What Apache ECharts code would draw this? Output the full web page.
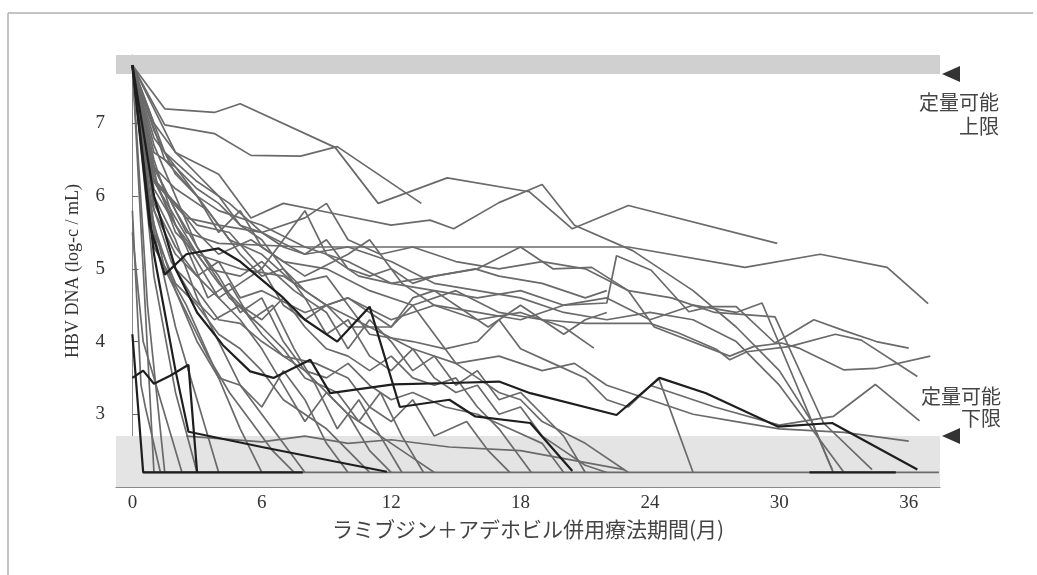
<!DOCTYPE html>
<html><head><meta charset="utf-8">
<script src="https://cdn.jsdelivr.net/npm/echarts@6/dist/echarts.min.js"></script>
<style>html,body{margin:0;padding:0;background:#fff}#c{width:1037px;height:575px}</style>
</head><body><div id="c"></div>
<script>
// ---- axis ticks ----
const xTicks = [0, 6, 12, 18, 24, 30, 36];
const yTicks = [3, 4, 5, 6, 7];
const upperLimitBand = [7.68, 7.94];
const lowerLimitBand = [2.0, 2.7];
// ---- patient curves (month, log copies/mL), grey ----
const G1 = [[0,7.8],[1.5,7.2],[3.8,7.15],[5,7.27],[9.4,6.67],[11.4,5.9],[14.6,6.25],[18.4,6.06],[20.4,5.55],[23,5.87],[29.9,5.35]];
const G2 = [[0,7.8],[1.5,6.98],[3.8,6.86],[5.5,6.56],[7.8,6.55],[9.5,6.68],[13.4,5.9]];
const G3 = [[0,7.8],[2,6.6],[4,6.3],[5.5,5.7],[7,5.9],[9.5,5.75],[12,5.6],[13.8,5.67],[14.9,5.55],[17,5.91],[19,6.16],[20.5,5.6],[23.2,5.25],[26,4.7],[28,4.2],[30,3.6],[31.5,2.9],[32.5,2.2]];
const G4 = [[0,7.8],[1,6.4],[2.5,5.5],[4,5.35],[8,5.3],[14,5.3],[20,5.3],[23,5.3],[28.4,5.02],[31.9,5.2],[35,5.02],[36.9,4.52]];
const G5 = [[0,7.8],[1,6.2],[2,5.9],[3,5.6],[4.5,5.5],[6,5.0],[7,5.4],[8,5.8],[9,5.2],[10.5,4.9],[12,4.8],[14,4.9],[16,5.0],[18,5.3],[19.5,5.0],[21.3,5.02],[23,4.7],[24.2,4.2],[27.7,3.8],[28.8,3.93],[30.1,3.98],[30.9,3.91],[33,3.61],[34.45,3.63],[37,3.8]];
const G6 = [[0,7.8],[0.8,6.3],[2,5.9],[3,5.5],[4,5.2],[5.5,5.4],[7,5.1],[9,5.0],[11,4.7],[13,4.5],[15,4.7],[17,4.4],[19,4.3],[21,4.25],[24,4.25],[25.3,4.12],[27.1,3.89],[27.7,3.75],[28.5,3.86],[30.45,3.93],[32.6,4.1],[33.8,4.02],[36.4,3.52]];
const G7 = [[0,7.8],[1,5.8],[2,5.2],[3,4.9],[4,5.1],[5,4.6],[6,4.7],[8,4.4],[10,4.6],[12,4.3],[14,4.5],[16,4.4],[18,4.3],[20,4.5],[22,4.53],[22.45,5.18],[24.06,4.98],[25.8,4.41],[26.8,4.48],[28,4.48],[29.8,3.98],[31.6,4.3],[33,4.15],[34.5,4.0],[36,3.91]];
const G8 = [[0,7.8],[1,6.8],[2,6.4],[3,6.0],[4,5.5],[5,5.8],[6,5.3],[8,4.9],[10,5.2],[11,5.4],[12.5,4.8],[14,4.5],[16,4.3],[18,4.4],[20,4.2],[21.4,3.91]];
const G9 = [[0,7.8],[1.5,6.5],[3,6.0],[4.5,5.4],[6,5.2],[7.5,4.8],[9,4.9],[11,4.1],[13,4.0],[14.5,3.9],[16,4.0],[17,4.3],[18,3.9],[19.5,3.7],[21,3.5],[22,3.2],[23,3.1],[24.4,3.5],[26,2.2]];
const G10 = [[0,7.8],[1,6.0],[2,5.0],[3,4.7],[4,4.3],[5,4.25],[6,4.0],[7,3.8],[8,3.6],[9,3.5],[10,3.7],[11,3.4],[12,3.2],[13,3.3],[14.5,3.1],[16,3.0],[17.5,2.8],[19,2.6],[20,2.2]];
const G11 = [[0,7.8],[1,5.5],[2,4.8],[3,4.5],[4,4.1],[5,3.9],[6,3.6],[7,3.2],[8,3.0],[9,2.8],[10,2.5],[11,2.2]];
const G12 = [[0,7.8],[1,6.4],[2,5.8],[3,5.3],[4.5,4.6],[6,4.2],[7,3.9],[8,3.5],[9.5,3.3],[10.5,2.9],[11.5,3.3],[12.5,2.7],[13.5,2.2]];
const G13 = [[0,7.8],[0.7,6.0],[1.5,5.0],[2.5,4.4],[3.5,3.8],[4.5,3.3],[5.5,2.9],[6.5,2.5],[7.5,2.2]];
const G14 = [[0,7.8],[1,5.6],[2,4.7],[3,4.0],[4,3.5],[5,3.4],[6,3.0],[7,2.6],[8,2.2]];
const G15 = [[0,7.8],[1,6.7],[2,6.0],[3,5.3],[4,4.9],[5,4.4],[6,4.6],[7,4.0],[8,3.6],[9,3.3],[10,3.0],[11,2.8],[12,2.6],[13,2.4],[14,2.2]];
const G16 = [[0,7.8],[1.2,6.1],[2.5,5.3],[3.5,4.6],[4.5,4.8],[5.5,4.3],[6.5,4.5],[7.5,3.9],[8.5,3.4],[9.5,2.8],[10.5,3.2],[11.5,2.7],[12.5,2.2]];
const G17 = [[0,7.8],[1,5.9],[2,5.3],[3,4.9],[4,4.6],[5,4.8],[6,5.0],[7,4.5],[8,4.3],[9,4.5],[10,4.2],[12,4.2],[13,4.5],[14,4.1],[15,3.7],[16,3.5],[17,3.3],[18,3.2],[19,2.9],[21,2.6],[23,2.2]];
const G18 = [[0,7.8],[1,6.2],[2,5.7],[3,5.2],[4,4.8],[5,4.5],[6,4.3],[7,4.6],[8,4.2],[9,3.9],[10,3.8],[11,3.6],[12,3.8],[13,3.5],[14,3.4],[15,3.5],[16,3.1],[17,2.8],[18.5,2.2]];
const G19 = [[0,7.8],[1,6.6],[2,6.4],[3,6.1],[4,5.9],[5,5.6],[6,5.4],[7,5.0],[8,4.7],[9,4.5],[10,4.6],[11,4.4],[12,4.2],[13,4.6],[14,4.7],[15,4.5],[16.5,4.2],[18,4.5],[19,4.3],[20,4.1],[21,4.3],[22,4.4]];
const G20 = [[0,7.8],[1,7.0],[2,6.6],[3,6.3],[4,6.0],[5,5.6],[6,5.5],[7,5.3],[8,5.2],[9,5.4],[10,5.0],[11,4.9],[12,5.0],[13,4.8],[14,4.9],[15.9,5.0],[17,4.9],[19,4.8],[21,4.6],[22,4.7]];
const G21 = [[0,5.8],[0.4,3.4],[0.6,3.1],[1.3,2.2]];
const G22 = [[0,5.5],[0.5,4.0],[1.5,3.0],[2.3,2.2]];
const G23 = [[0,7.8],[0.5,5.0],[1,2.2]];
const G24 = [[0,7.8],[0.7,4.5],[1.5,2.2]];
const G25 = [[0,7.8],[1,4.9],[2,3.3],[3,2.2]];
const G26 = [[0,7.8],[1,5.5],[2,4.2],[3,3.2],[4,2.2]];
const G27 = [[0,7.8],[1,5.3],[2.5,4.5],[4,3.5],[5,2.8],[6,2.2]];
const G28 = [[0,7.8],[1,6.0],[2,5.4],[3,4.6],[4,4.0],[5,3.4],[6,3.1],[7,3.6],[8,3.2],[9,2.6],[10,2.2]];
const G29 = [[0,7.8],[1,6.5],[2,5.6],[3,5.1],[4,4.6],[5,4.3],[6,3.9],[7,3.4],[8,2.9],[9,3.3],[10,3.0],[11,2.5],[12,2.2]];
const G30 = [[2.5,2.7],[6,2.62],[8,2.7],[10,2.6],[12,2.65],[14.7,2.55],[18,2.5],[22.8,2.24]];
const G31 = [[0,7.8],[1,6.3],[2,5.5],[3,5.2],[5,5.0],[7,4.9],[9,4.5],[11,4.2],[13,3.9],[15,3.7],[17,3.8],[19,3.6],[20.5,3.7],[22,3.4],[24,3.2],[26,3.0],[28,2.9],[30,2.8],[33,2.75],[36,2.63]];
const G32 = [[0,7.8],[1.5,6.6],[3,6.2],[4.5,5.9],[6,5.5],[8,5.2],[10,5.3],[12,5.1],[14,4.8],[16,4.7],[18,4.6],[20,4.4],[22,4.3],[24,4.4],[26,4.3],[28,4.0],[30,3.4],[31.5,2.8],[33,2.2]];
const G33 = [[0,7.8],[1,6.9],[2,6.3],[3,6.0],[4,5.8],[6,5.6],[8,5.3],[10,5.1],[12,4.8],[14,4.7],[16,4.6],[18,4.7],[20,4.5],[22,4.6],[24,4.3],[26,4.5],[28,4.4],[29.2,4.53],[32.45,2.24]];
const G34 = [[0,7.8],[1,6.1],[2,5.6],[3.5,5.0],[5,4.9],[6,5.1],[7.5,4.7],[9,4.4],[10,3.9],[11,4.3],[12,4.0],[13,3.6],[14,3.8],[15,3.4],[16,3.6],[17,3.2],[18,3.3],[19,3.0],[20,2.7],[21,2.2]];
const G35 = [[0,7.8],[1,6.2],[2.5,5.7],[4,5.6],[6,5.5],[8,5.7],[9,5.9],[10,5.4],[11.5,5.2],[13,5.3],[15,5.1],[17,5.0],[19,5.1],[21,5.0],[23,4.7],[25,4.6],[27,4.4],[29.8,4.34],[32.05,2.88],[34.3,2.24]];
const G36 = [[0,7.8],[0.8,6.0],[1.8,5.1],[2.8,4.6],[3.8,4.3],[5,4.5],[6,4.1],[7,3.8],[8.5,3.7],[10,3.5],[11,3.1],[12,2.9],[13,3.2],[14,2.7],[15.5,2.9],[16.5,2.5],[17.5,2.2]];
const G37 = [[0,7.8],[1,6.4],[2,6.1],[3.5,5.8],[5,5.2],[6,4.9],[7,5.0],[8,4.6],[9,4.1],[10,4.3],[11,3.8],[12,3.6],[13,3.9],[14,3.5],[15,3.3],[16,3.4],[17,3.0],[18,3.1],[19,2.7],[20,2.5],[21,2.3],[22,2.2]];
const P1 = [[24,3.4],[27,3.1],[30,2.85],[32.5,2.97],[34.45,3.41],[36.5,2.91]];
const BELOW = [[0.5,2.2],[37.4,2.2]];
// ---- dark (highlighted) patients ----
const D1 = [[0,7.8],[0.8,5.6],[1.5,4.92],[2.5,5.2],[4,5.28],[5,5.1],[7,4.6],[8,4.3],[9.5,4.0],[11,4.48],[12.4,3.1],[14.7,3.2],[15.9,2.97],[18.45,2.88],[20.4,2.22]];
const D2 = [[0,7.8],[1,6.0],[2,5.0],[3,4.4],[4.2,3.95],[5.46,3.59],[6.54,3.5],[8.25,3.75],[9.17,3.29],[12.1,3.41],[14.74,3.43],[17,3.45],[18.45,3.29],[22.45,2.99],[24.45,3.5],[26.6,3.29],[29.95,2.83],[32.45,2.88],[36.4,2.24]];
const D3 = [[0,7.8],[1,5.2],[2,3.6],[2.6,2.76],[6,2.55],[11.8,2.21]];
const D4 = [[0,4.1],[0.5,2.2],[7.9,2.2]];
const D5 = [[0,3.5],[0.5,3.6],[1,3.42],[1.75,3.53],[2.6,3.68],[3.0,2.2]];
const D6 = [[31.4,2.2],[35.4,2.2]];

const greyLines = [BELOW,G30,G1,G2,G3,G4,G5,G6,G7,G8,G9,G10,G11,G12,G13,G14,G15,G16,G17,G18,G19,G20,G21,G22,G23,G24,G25,G26,G27,G28,G29,G31,G32,G33,G34,G35,G36,G37,P1];
const darkLines = [D1,D2,D3,D4,D5,D6];

const chart = echarts.init(document.getElementById('c'), null, {renderer:'canvas'});
const series = [];
series.push({
  type:'line', data:[], silent:true,
  markArea:{silent:true, data:[
    [{yAxis:upperLimitBand[0], itemStyle:{color:'#d0d0d0'}},{yAxis:upperLimitBand[1]}],
    [{yAxis:lowerLimitBand[0], itemStyle:{color:'#e4e4e4'}},{yAxis:lowerLimitBand[1]}]
  ]}
});
greyLines.forEach(d => series.push({type:'line', data:d, symbol:'none', silent:true,
  lineStyle:{color:'#6a6a6a', width:1.7}}));
darkLines.forEach(d => series.push({type:'line', data:d, symbol:'none', silent:true,
  lineStyle:{color:'#1e1e1e', width:2.2}}));

const serif = '"Liberation Serif","DejaVu Serif",serif';
const cjk = '"Noto Sans CJK JP","Noto Sans",sans-serif';
chart.setOption({
  animation:false,
  backgroundColor:'#fff',
  grid:{left:116, right:97, top:55, bottom:88},
  xAxis:{type:'value', min:-0.76, max:37.45,
    axisLine:{lineStyle:{color:'#8a8a8a', width:1}},
    axisTick:{inside:true, length:6, lineStyle:{color:'#666'}, customValues:xTicks},
    axisLabel:{customValues:xTicks, margin:7, fontFamily:serif, fontSize:19, color:'#333'},
    splitLine:{show:false},
    name:'ラミブジン＋アデホビル併用療法期間(月)', nameLocation:'middle', nameGap:32,
    nameTextStyle:{fontFamily:cjk, fontSize:21, color:'#444'}
  },
  yAxis:{type:'value', min:2, max:7.94,
    axisLine:{show:true, lineStyle:{color:'#8a8a8a', width:1}},
    axisTick:{show:true, inside:true, length:6, lineStyle:{color:'#666'}, customValues:yTicks},
    axisLabel:{customValues:yTicks, margin:11, fontFamily:serif, fontSize:19, color:'#333'},
    splitLine:{show:false},
    name:'HBV DNA (log-c / mL)', nameLocation:'middle', nameGap:34,
    nameTextStyle:{fontFamily:serif, fontSize:18, color:'#333'}
  },
  series:series
});

function place(){
  const up = chart.convertToPixel({gridIndex:0},[37.45, upperLimitBand[0]]);
  const lo = chart.convertToPixel({gridIndex:0},[37.45, lowerLimitBand[1]]);
  const tri = (x,y)=>({type:'polygon', shape:{points:[[x+2,y],[x+20,y-8],[x+20,y+8]]}, style:{fill:'#333'}});
  chart.setOption({graphic:[
    {type:'line', shape:{x1:8,y1:13,x2:1033,y2:13}, style:{stroke:'#b0b0b0', lineWidth:1.5}},
    {type:'line', shape:{x1:8,y1:13,x2:8,y2:575}, style:{stroke:'#b0b0b0', lineWidth:1.5}},
    tri(up[0], up[1]),
    tri(lo[0], lo[1]),
    {type:'text', x:999, y:90, style:{text:'定量可能\n上限', align:'right', font:'20px '+cjk, lineHeight:24, fill:'#444'}},
    {type:'text', x:1001, y:385, style:{text:'定量可能\n下限', align:'right', font:'20px '+cjk, lineHeight:22, fill:'#444'}}
  ]});
}
place();
</script></body></html>
